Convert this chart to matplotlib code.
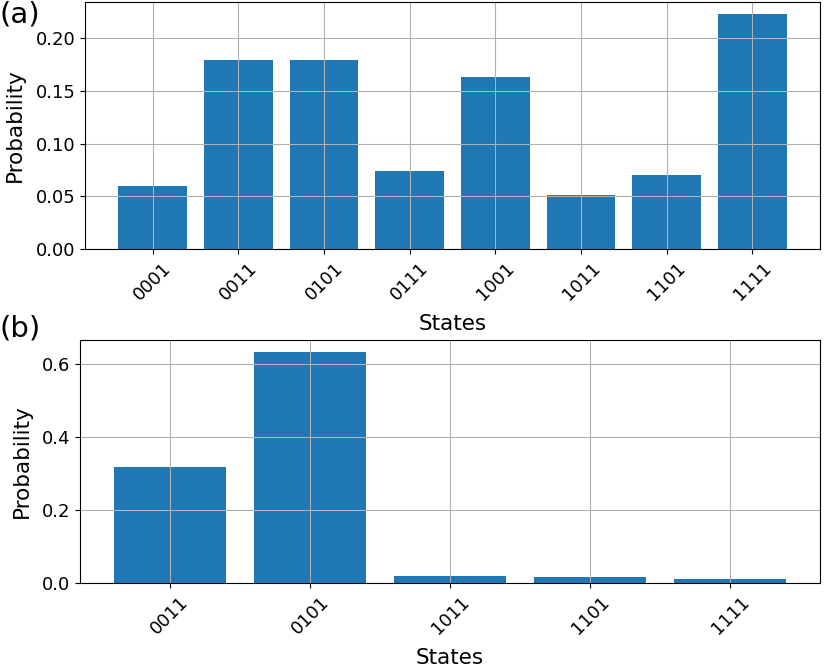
import matplotlib
matplotlib.use("Agg")
import matplotlib.pyplot as plt

states_a = ['0001', '0011', '0101', '0111', '1001', '1011', '1101', '1111']
probs_a = [0.060, 0.179, 0.179, 0.074, 0.163, 0.051, 0.070, 0.223]

states_b = ['0011', '0101', '1011', '1101', '1111']
probs_b = [0.318, 0.633, 0.019, 0.016, 0.011]

fig = plt.figure(figsize=(8.25, 6.72), dpi=100)
ax1 = fig.add_axes([0.103, 0.6295, 0.891, 0.3675])
ax2 = fig.add_axes([0.097, 0.1324, 0.897, 0.3616])

for ax, states, probs in [(ax1, states_a, probs_a), (ax2, states_b, probs_b)]:
	ax.bar(states, probs, color='#1f77b4')
	ax.set_xlabel('States', fontsize=15.5, labelpad=7.5)
	ax.set_ylabel('Probability', fontsize=15.5, labelpad=7.5)
	ax.tick_params(axis='both', labelsize=13)
	ax.tick_params(axis='x', labelrotation=45)
	ax.grid(True)

fig.text(0.0, 0.999, '(a)', fontsize=21, ha='left', va='top')
fig.text(0.0, 0.532, '(b)', fontsize=21, ha='left', va='top')

fig.savefig('out.png', dpi=100)
